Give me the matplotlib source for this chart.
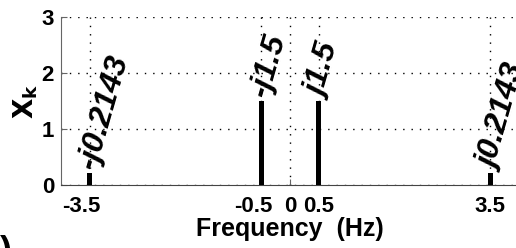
import matplotlib

matplotlib.use("Agg")
import matplotlib.pyplot as plt
import matplotlib.transforms as mtransforms

# spectrum lines
freqs = [-3.5, -0.5, 0.5, 3.5]
mags = [0.2143, 1.5, 1.5, 0.2143]
labels = ["-j0.2143", "-j1.5", "j1.5", "j0.2143"]
xticks = [-3.5, -0.5, 0, 0.5, 3.5]
xticklabels = ["-3.5", "-0.5", "0", "0.5", "3.5"]
yticks = [0, 1, 2, 3]

plt.rcParams["font.family"] = ["Liberation Sans", "DejaVu Sans"]
plt.rcParams["font.weight"] = "bold"

fig = plt.figure(figsize=(5.16, 2.48), dpi=100)
ax = fig.add_axes([61 / 516, 63 / 248, 458 / 516, 168 / 248])

ax.bar(freqs, mags, width=0.1, color="black", zorder=3)
for f, m, lab in zip(freqs, mags, labels):
    ax.text(f - 0.03, m + 0.08, lab, rotation=74, rotation_mode="anchor",
            ha="left", va="center", fontsize=23, fontstyle="italic",
            fontweight="bold", zorder=4)

ax.set_xlim(-4, 4)
ax.set_ylim(0, 3)
ax.set_xticks(xticks)
ax.set_xticklabels(xticklabels)
ax.set_yticks(yticks)
ax.tick_params(labelsize=16, length=4, direction="in", color="#666666")
ax.tick_params(axis="x", pad=8)
ax.tick_params(axis="y", pad=5)
ax.grid(True, linestyle=(0, (1, 5)), color="black", linewidth=1.0)
for s in ["top", "right"]:
    ax.spines[s].set_visible(False)
ax.spines["left"].set_color("#666666")
ax.spines["bottom"].set_color("#444444")
ax.set_xlabel("Frequency  (Hz)", fontsize=18, fontweight="bold", labelpad=0)
ax.set_ylabel(r"$\mathbf{X_k}$", fontsize=19, labelpad=1)

# negative tick labels sit a bit to the left, like the original
shift = mtransforms.ScaledTranslation(-0.08, 0, fig.dpi_scale_trans)
for lbl in ax.get_xticklabels():
    if lbl.get_text().startswith("-"):
        lbl.set_transform(lbl.get_transform() + shift)

fig.text(0.0, -0.09, ")", fontsize=26, fontweight="bold", ha="left", va="bottom")

fig.savefig("out.png", dpi=100)
